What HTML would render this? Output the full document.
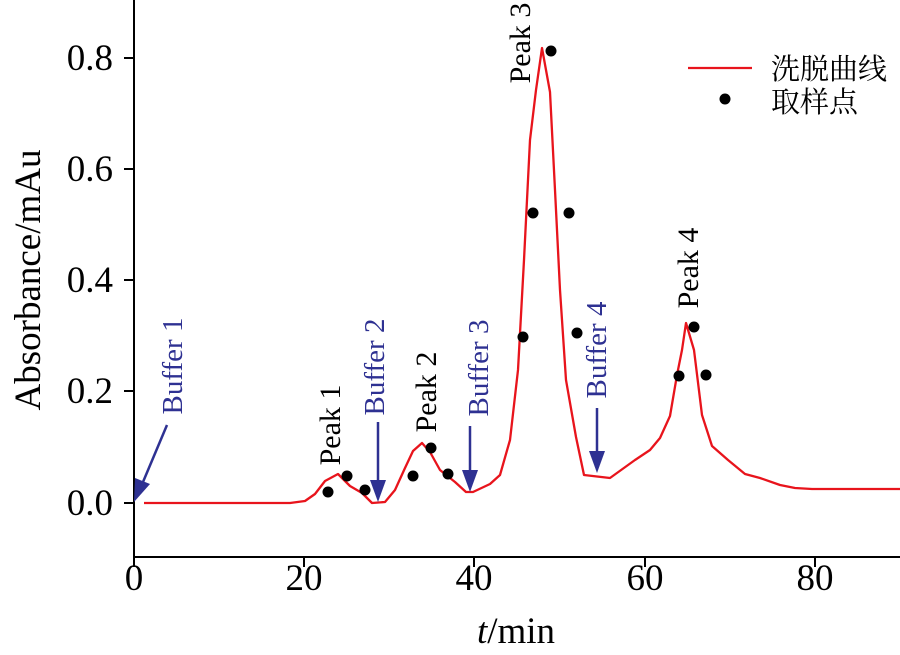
<!DOCTYPE html>
<html><head><meta charset="utf-8"><style>
body{margin:0;background:#fff;}
svg{display:block;font-family:"Liberation Serif","Noto Serif CJK SC",serif;}
</style></head><body>
<svg width="900" height="655" viewBox="0 0 900 655" xmlns="http://www.w3.org/2000/svg">
<g stroke="#000" stroke-width="2" fill="none">
<line x1="134" y1="0" x2="134" y2="558"/>
<line x1="133" y1="557" x2="900" y2="557"/>
<line x1="124" y1="58" x2="134" y2="58"/>
<line x1="124" y1="169" x2="134" y2="169"/>
<line x1="124" y1="280" x2="134" y2="280"/>
<line x1="124" y1="391" x2="134" y2="391"/>
<line x1="124" y1="503" x2="134" y2="503"/>
<line x1="134" y1="557" x2="134" y2="567"/>
<line x1="304" y1="557" x2="304" y2="567"/>
<line x1="474" y1="557" x2="474" y2="567"/>
<line x1="645" y1="557" x2="645" y2="567"/>
<line x1="815" y1="557" x2="815" y2="567"/>
</g>
<g font-size="37" fill="#000" text-anchor="end">
<text x="113" y="70">0.8</text>
<text x="113" y="181">0.6</text>
<text x="113" y="292">0.4</text>
<text x="113" y="403">0.2</text>
<text x="113" y="515">0.0</text>
</g>
<g font-size="37" fill="#000" text-anchor="middle">
<text x="134" y="590">0</text>
<text x="304" y="590">20</text>
<text x="474" y="590">40</text>
<text x="645" y="590">60</text>
<text x="815" y="590">80</text>
<text x="516" y="643"><tspan font-style="italic">t</tspan>/min</text>
<text transform="translate(40,280) rotate(-90)">Absorbance/mAu</text>
</g>
<polyline fill="none" stroke="#e8141c" stroke-width="2.3" stroke-linejoin="round" points="144,503 290,503 305,501 315,494 325,481 338,474 350,486 362,493 372,503 385,502 395,490 405,468 413,451 422,443 430,452 440,470 455,482 466,492 473,492 490,484 500,475 510,440 518,370 524,260 530,140 536,90 542,48 550,92 555,190 560,290 566,380 576,437 584,475 610,478 635,460 650,450 660,438 670,416 677,375 682,350 686,323 694,350 702,415 712,446 728,460 745,474 760,478 780,485 795,488 812,489 900,489"/>
<g fill="#000">
<circle cx="328" cy="492" r="5.5"/><circle cx="347" cy="476" r="5.5"/><circle cx="365" cy="490" r="5.5"/>
<circle cx="413" cy="476" r="5.5"/><circle cx="431" cy="448" r="5.5"/><circle cx="448" cy="474" r="5.5"/>
<circle cx="551" cy="51" r="5.5"/><circle cx="533" cy="213" r="5.5"/><circle cx="569" cy="213" r="5.5"/>
<circle cx="523" cy="337" r="5.5"/><circle cx="577" cy="333" r="5.5"/>
<circle cx="694" cy="327" r="5.5"/><circle cx="679" cy="376" r="5.5"/><circle cx="706" cy="375" r="5.5"/>
<circle cx="725" cy="99" r="5.5"/>
</g>
<line x1="688" y1="68" x2="752" y2="68" stroke="#e8141c" stroke-width="2.3"/>
<g font-size="29" fill="#000" font-family="'Noto Serif CJK SC','Noto Sans CJK SC',serif">
<text x="771" y="79">洗脱曲线</text>
<text x="771" y="112">取样点</text>
</g>
<g stroke="#2e3192" stroke-width="2.5" fill="#2e3192">
<line x1="167" y1="425" x2="143" y2="482"/>
<polygon points="134,502 135,478 150,484" stroke="none"/>
<line x1="378" y1="422" x2="378" y2="485"/>
<polygon points="370,480 386,480 378,502" stroke="none"/>
<line x1="470" y1="426" x2="470" y2="475"/>
<polygon points="462,470 478,470 470,492" stroke="none"/>
<line x1="597" y1="408" x2="597" y2="456"/>
<polygon points="589,451 605,451 597,473" stroke="none"/>
</g>
<g font-size="29" fill="#2e3192" text-anchor="middle">
<text transform="translate(182,366) rotate(-90)">Buffer 1</text>
<text transform="translate(384,367) rotate(-90)">Buffer 2</text>
<text transform="translate(488,368) rotate(-90)">Buffer 3</text>
<text transform="translate(606,350) rotate(-90)">Buffer 4</text>
</g>
<g font-size="30" fill="#000" text-anchor="middle">
<text transform="translate(340,425) rotate(-90)">Peak 1</text>
<text transform="translate(436,392) rotate(-90)">Peak 2</text>
<text transform="translate(530,43) rotate(-90)">Peak 3</text>
<text transform="translate(698,268) rotate(-90)">Peak 4</text>
</g>
</svg>
</body></html>
